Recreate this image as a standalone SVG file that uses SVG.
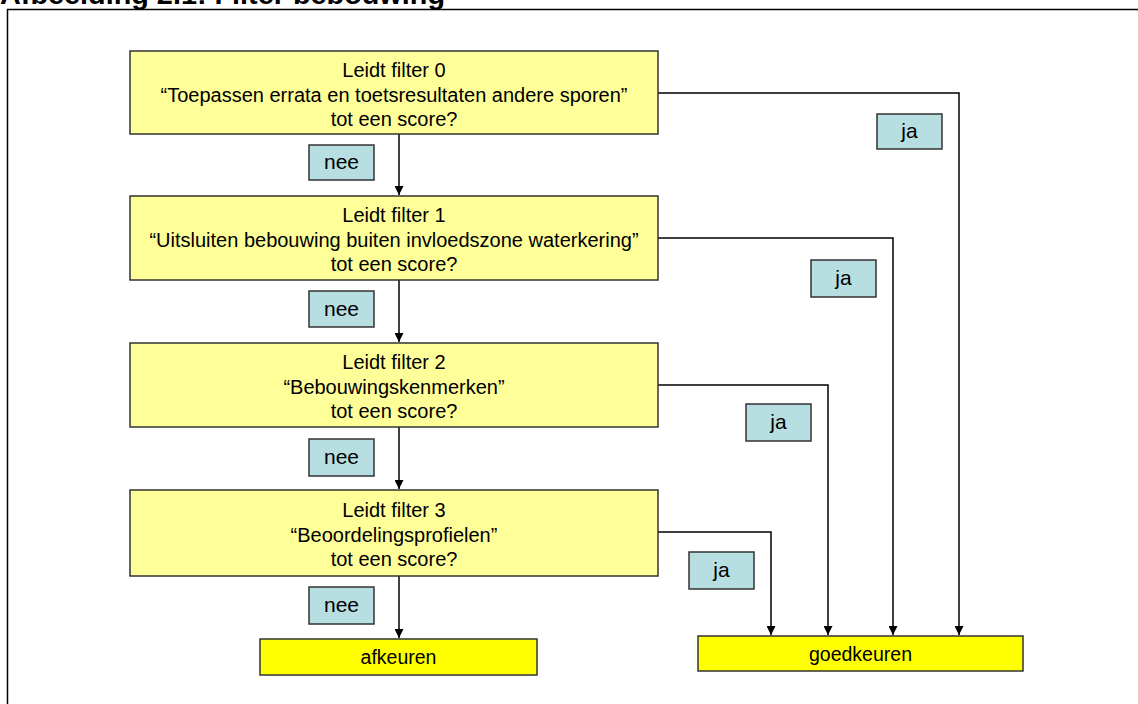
<svg xmlns="http://www.w3.org/2000/svg" width="1138" height="704" viewBox="0 0 1138 704">
<defs>
<style>
.title{font-family:"Liberation Sans",Arial,sans-serif;font-weight:bold;font-size:28px;fill:#000}
.q{fill:#FFFF99;stroke:#333;stroke-width:1.5}
.lbl{fill:#B7DEE1;stroke:#333;stroke-width:1.5}
.end{fill:#FFFF00;stroke:#333;stroke-width:1.5}
.t{font-family:"Liberation Sans",Arial,sans-serif;font-size:20px;fill:#000;text-anchor:middle}
.t2{font-family:"Liberation Sans",Arial,sans-serif;font-size:21px;fill:#000;text-anchor:middle}
.t3{font-family:"Liberation Sans",Arial,sans-serif;font-size:19.5px;fill:#000;text-anchor:middle}
.c{fill:none;stroke:#000;stroke-width:1.5}
</style>
<marker id="arr" viewBox="0 0 10 10" refX="10" refY="5" markerWidth="9" markerHeight="9" markerUnits="userSpaceOnUse" orient="auto">
<path d="M0,0 L10,5 L0,10 z" fill="#000"/>
</marker>
</defs>
<rect width="1138" height="704" fill="#fff"/>
<text class="title" x="0" y="4" textLength="445" lengthAdjust="spacingAndGlyphs">Afbeelding 2.1: Filter bebouwing</text>
<path d="M7.5,704 V9.5 H1138" fill="none" stroke="#000" stroke-width="1.5"/>

<g id="connectors">
<path class="c" d="M399,134 V195" marker-end="url(#arr)"/>
<path class="c" d="M399,280 V342" marker-end="url(#arr)"/>
<path class="c" d="M399,427 V489" marker-end="url(#arr)"/>
<path class="c" d="M399,576 V638" marker-end="url(#arr)"/>
<path class="c" d="M658,93 H959 V635" marker-end="url(#arr)"/>
<path class="c" d="M658,238 H893 V635" marker-end="url(#arr)"/>
<path class="c" d="M658,385 H828 V635" marker-end="url(#arr)"/>
<path class="c" d="M658,532 H771 V635" marker-end="url(#arr)"/>
</g>

<g id="filter0">
<rect class="q" x="130" y="51" width="528" height="83"/>
<text class="t" x="394" y="77">Leidt filter 0</text>
<text class="t" x="394" y="102">“Toepassen errata en toetsresultaten andere sporen”</text>
<text class="t" x="394" y="126">tot een score?</text>
</g>
<g id="filter1">
<rect class="q" x="130" y="196" width="528" height="84"/>
<text class="t" x="394" y="222">Leidt filter 1</text>
<text class="t" x="394" y="247">“Uitsluiten bebouwing buiten invloedszone waterkering”</text>
<text class="t" x="394" y="271">tot een score?</text>
</g>
<g id="filter2">
<rect class="q" x="130" y="343" width="528" height="84"/>
<text class="t" x="394" y="369">Leidt filter 2</text>
<text class="t" x="394" y="394">“Bebouwingskenmerken”</text>
<text class="t" x="394" y="418">tot een score?</text>
</g>
<g id="filter3">
<rect class="q" x="130" y="490" width="528" height="86"/>
<text class="t" x="394" y="517">Leidt filter 3</text>
<text class="t" x="394" y="542">“Beoordelingsprofielen”</text>
<text class="t" x="394" y="566">tot een score?</text>
</g>

<g id="nee0"><rect class="lbl" x="309" y="145" width="65" height="35"/><text class="t2" x="341.5" y="169">nee</text></g>
<g id="nee1"><rect class="lbl" x="309" y="291" width="65" height="36"/><text class="t2" x="341.5" y="316">nee</text></g>
<g id="nee2"><rect class="lbl" x="309" y="439" width="65" height="37"/><text class="t2" x="341.5" y="464">nee</text></g>
<g id="nee3"><rect class="lbl" x="309" y="587" width="65" height="37"/><text class="t2" x="341.5" y="612">nee</text></g>

<g id="ja0"><rect class="lbl" x="877" y="114" width="65" height="35"/><text class="t2" x="909.5" y="138">ja</text></g>
<g id="ja1"><rect class="lbl" x="811" y="260" width="65" height="37"/><text class="t2" x="843.5" y="285">ja</text></g>
<g id="ja2"><rect class="lbl" x="746" y="404" width="65" height="37"/><text class="t2" x="778.5" y="429">ja</text></g>
<g id="ja3"><rect class="lbl" x="689" y="552" width="65" height="37"/><text class="t2" x="721.5" y="577">ja</text></g>

<g id="afkeuren"><rect class="end" x="260" y="639" width="277" height="36"/><text class="t3" x="398.5" y="664">afkeuren</text></g>
<g id="goedkeuren"><rect class="end" x="698" y="636" width="325" height="35"/><text class="t3" x="860.5" y="661">goedkeuren</text></g>
</svg>
